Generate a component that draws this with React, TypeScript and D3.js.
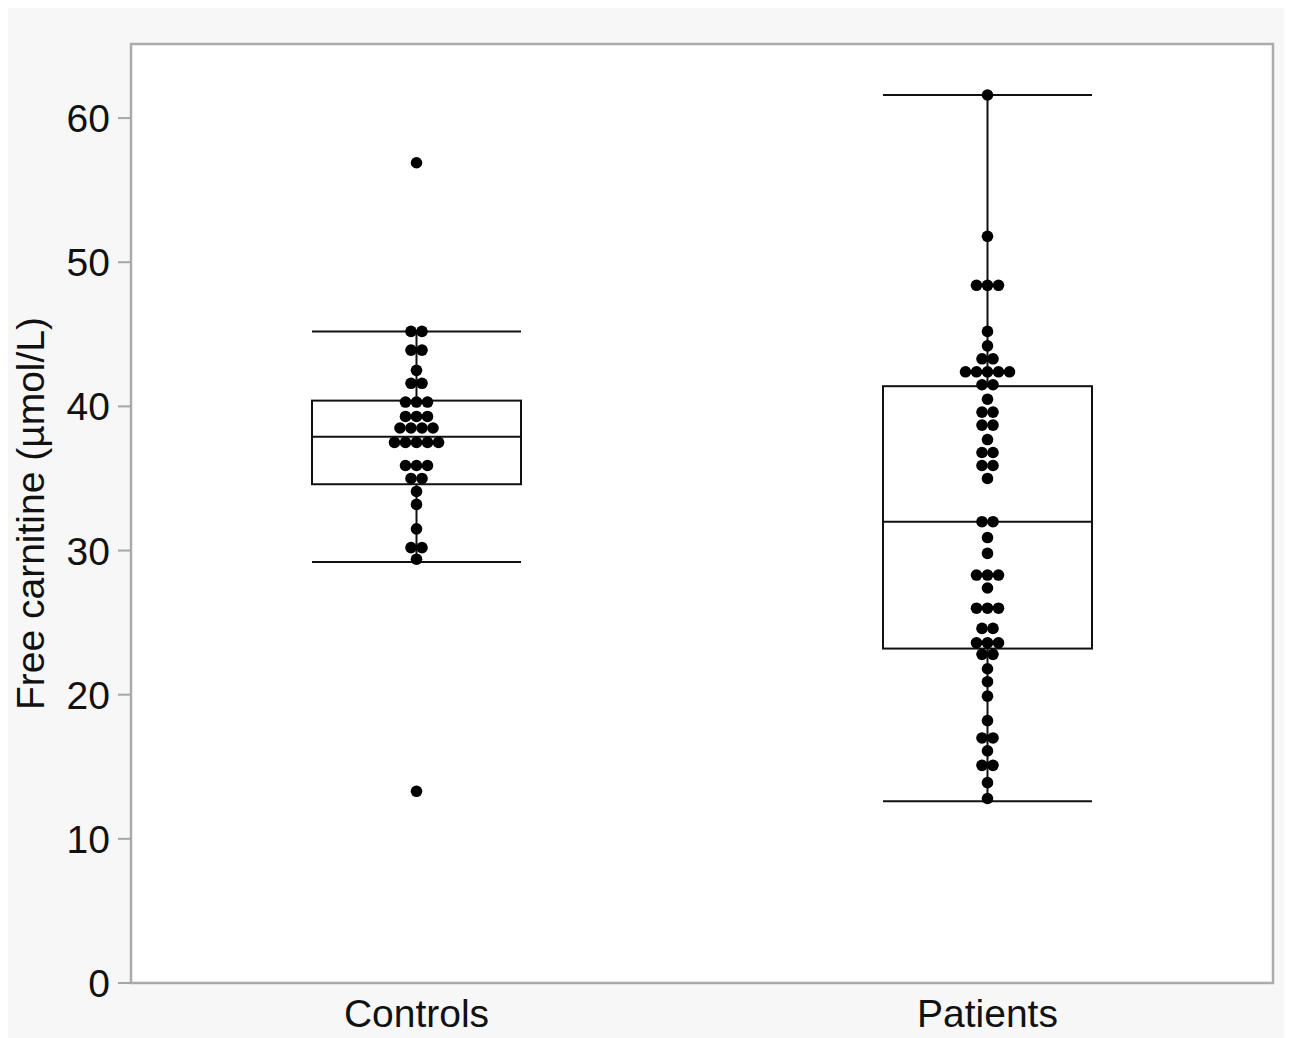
import React, { useEffect, useRef } from 'react';
import * as d3 from 'd3';

// groups on the x axis
const groups = ['Controls', 'Patients'];

// individual values (repeats = dots side by side)
const controlsValues = [
    56.9, 45.2, 45.2, 43.9, 43.9, 42.5, 41.6, 41.6,
    40.3, 40.3, 40.3, 39.3, 39.3, 39.3,
    38.5, 38.5, 38.5, 38.5, 37.5, 37.5, 37.5, 37.5, 37.5,
    35.9, 35.9, 35.9, 35.0, 35.0, 34.1, 33.2, 31.5,
    30.2, 30.2, 29.4, 13.3
];

const patientsValues = [
    61.6, 51.8, 48.4, 48.4, 48.4, 45.2, 44.2, 43.3, 43.3,
    42.4, 42.4, 42.4, 42.4, 42.4, 41.5, 41.5, 40.5,
    39.6, 39.6, 38.7, 38.7, 37.7, 36.8, 36.8, 35.9, 35.9, 35.0,
    32.0, 32.0, 30.9, 29.8, 28.3, 28.3, 28.3, 27.4,
    26.0, 26.0, 26.0, 24.6, 24.6, 23.6, 23.6, 23.6, 22.8, 22.8,
    21.8, 20.9, 19.9, 18.2, 17.0, 17.0, 16.1, 15.1, 15.1, 13.9, 12.8
];

// box summaries: [lower whisker, Q1, median, Q3, upper whisker]
const controlsBox = [29.2, 34.6, 37.9, 40.4, 45.2];
const patientsBox = [12.6, 23.2, 32.0, 41.4, 61.6];

const yTicks = [0, 10, 20, 30, 40, 50, 60];

const FONT = '"Liberation Sans", Arial, Helvetica, sans-serif';

const BoxSwarm = () => {
    const svgRef = useRef(null);

    useEffect(() => {
        const width = 1284;
        const height = 1030;
        const plot = { left: 123, top: 36, right: 1265, bottom: 975 };

        const svg = d3.select(svgRef.current)
            .attr('width', width)
            .attr('height', height)
            .style('display', 'block')
            .style('background', '#f7f7f7');

        svg.selectAll('*').remove();

        const x = d3.scaleBand()
            .domain(groups)
            .range([plot.left, plot.right])
            .padding(0);

        const y = d3.scaleLinear()
            .domain([0, 65])
            .range([plot.bottom, plot.top + 2]);

        // plot area
        svg.append('rect')
            .attr('x', plot.left)
            .attr('y', plot.top)
            .attr('width', plot.right - plot.left)
            .attr('height', plot.bottom - plot.top)
            .attr('fill', '#ffffff')
            .attr('stroke', '#ababab')
            .attr('stroke-width', 2.5);

        // y axis ticks + labels
        const yAxis = svg.append('g');
        yAxis.selectAll('line')
            .data(yTicks)
            .enter()
            .append('line')
            .attr('x1', plot.left - 13)
            .attr('x2', plot.left)
            .attr('y1', d => y(d))
            .attr('y2', d => y(d))
            .attr('stroke', '#a6a6a6')
            .attr('stroke-width', 2);

        yAxis.selectAll('text')
            .data(yTicks)
            .enter()
            .append('text')
            .attr('x', plot.left - 21)
            .attr('y', d => y(d))
            .attr('dy', '0.36em')
            .attr('text-anchor', 'end')
            .attr('font-family', FONT)
            .attr('font-size', 39)
            .attr('fill', '#111')
            .text(d => d);

        // y axis title
        svg.append('text')
            .attr('transform', `translate(36, ${(plot.top + plot.bottom) / 2}) rotate(-90)`)
            .attr('text-anchor', 'middle')
            .attr('font-family', FONT)
            .attr('font-size', 39)
            .attr('fill', '#111')
            .text('Free carnitine (µmol/L)');

        // category labels
        svg.append('g').selectAll('text')
            .data(groups)
            .enter()
            .append('text')
            .attr('x', d => x(d) + x.bandwidth() / 2)
            .attr('y', plot.bottom + 44)
            .attr('text-anchor', 'middle')
            .attr('font-family', FONT)
            .attr('font-size', 39)
            .attr('fill', '#111')
            .text(d => d);

        const series = [
            { name: 'Controls', values: controlsValues, box: controlsBox },
            { name: 'Patients', values: patientsValues, box: patientsBox }
        ];

        const boxW = 209;
        const dotGap = 11;

        series.forEach(s => {
            const cx = x(s.name) + x.bandwidth() / 2;
            const [lo, q1, med, q3, hi] = s.box;
            const g = svg.append('g')
                .attr('stroke', '#111')
                .attr('stroke-width', 2)
                .attr('fill', 'none');

            // whisker stems
            g.append('line')
                .attr('x1', cx).attr('x2', cx)
                .attr('y1', y(hi)).attr('y2', y(q3));
            g.append('line')
                .attr('x1', cx).attr('x2', cx)
                .attr('y1', y(q1)).attr('y2', y(lo));

            // whisker caps
            [lo, hi].forEach(v => {
                g.append('line')
                    .attr('x1', cx - boxW / 2).attr('x2', cx + boxW / 2)
                    .attr('y1', y(v)).attr('y2', y(v));
            });

            // box
            g.append('rect')
                .attr('x', cx - boxW / 2)
                .attr('y', y(q3))
                .attr('width', boxW)
                .attr('height', y(q1) - y(q3));

            g.append('line')
                .attr('x1', cx - boxW / 2).attr('x2', cx + boxW / 2)
                .attr('y1', y(med)).attr('y2', y(med));

            // swarm: equal values sit side by side, centred
            const rows = d3.groups(s.values, v => v);
            const dots = [];
            rows.forEach(([v, arr]) => {
                arr.forEach((_, i) => {
                    dots.push({ v, dx: (i - (arr.length - 1) / 2) * dotGap });
                });
            });

            svg.append('g').selectAll('circle')
                .data(dots)
                .enter()
                .append('circle')
                .attr('cx', d => cx + d.dx)
                .attr('cy', d => y(d.v))
                .attr('r', 5.8)
                .attr('fill', '#000');
        });
    }, []);

    return <svg ref={svgRef}></svg>;
};

export default function App() {
    return <BoxSwarm />;
}
